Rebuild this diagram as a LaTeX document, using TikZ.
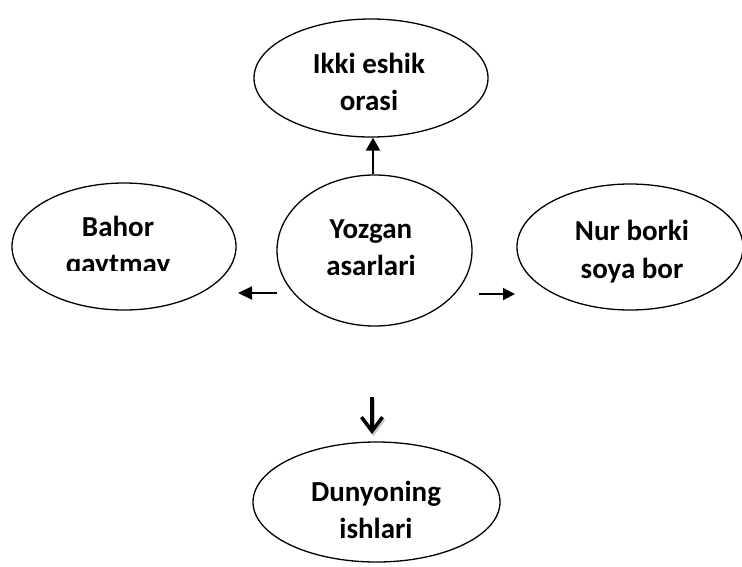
\documentclass[tikz,border=0pt]{standalone}
\usepackage{fontspec}
\setmainfont{Carlito}
\usetikzlibrary{shapes.geometric,arrows.meta}
\tikzset{
  oval/.style={draw, ellipse, line width=1.3pt, inner sep=0pt},
  lbl/.style={align=center, font=\bfseries\fontsize{29}{37.5}\selectfont},
  arr/.style={line width=2pt, -{Triangle[length=13pt, width=14pt]}},
  downarr/.style={line width=3.5pt, -{Straight Barb[length=14pt, width=21pt, line width=3.5pt]}}
}
\begin{document}
\begin{tikzpicture}[x=1pt, y=-1pt, line join=round]
\useasboundingbox (0,0) rectangle (742,566);
\node[oval, minimum width=234pt, minimum height=118pt] (ikki) at (371,78) {};
\node[oval, minimum width=195pt, minimum height=151pt] (yozgan) at (374.5,250.5) {};
\node[oval, minimum width=224pt, minimum height=127pt] (bahor) at (124,246.5) {};
\node[oval, minimum width=226pt, minimum height=126pt] (nur) at (630,247) {};
\node[oval, minimum width=247pt, minimum height=120pt] (dunyo) at (376.5,502) {};
\node[lbl] (ikkiT) at (369,82) {Ikki eshik\\orasi};
\node[lbl] (yozganT) at (371,247.5) {Yozgan\\asarlari};
\begin{scope}
\clip (0,150) rectangle (260,270);
\node[lbl] (bahorT) at (118,247) {Bahor\\qaytmay};
\end{scope}
\node[lbl] (nurT) at (632,251.7) {Nur borki\\soya bor};
\node[lbl] (dunyoT) at (376,510) {Dunyoning\\ishlari};
\coordinate (lA) at (277,293);
\coordinate (lB) at (238,293);
\coordinate (rA) at (479,294);
\coordinate (rB) at (515,294);
\coordinate (dA) at (372,397);
\coordinate (dB) at (372,434);
\draw[arr, line width=2.5pt] ([xshift=-1.5pt]yozgan.north) -- ([xshift=-1.5pt]yozgan.north |- ikki.south);
\draw[arr, -{Triangle[length=14pt, width=13pt]}] (lA) -- (lB);
\draw[arr, -{Triangle[length=12pt, width=12pt]}] (rA) -- (rB);
\draw[downarr, black!30, opacity=.7] ([shift={(1.5pt,-2pt)}]dA) -- ([shift={(1.5pt,-2pt)}]dB);
\draw[downarr] (dA) -- (dB);
\end{tikzpicture}
\end{document}
